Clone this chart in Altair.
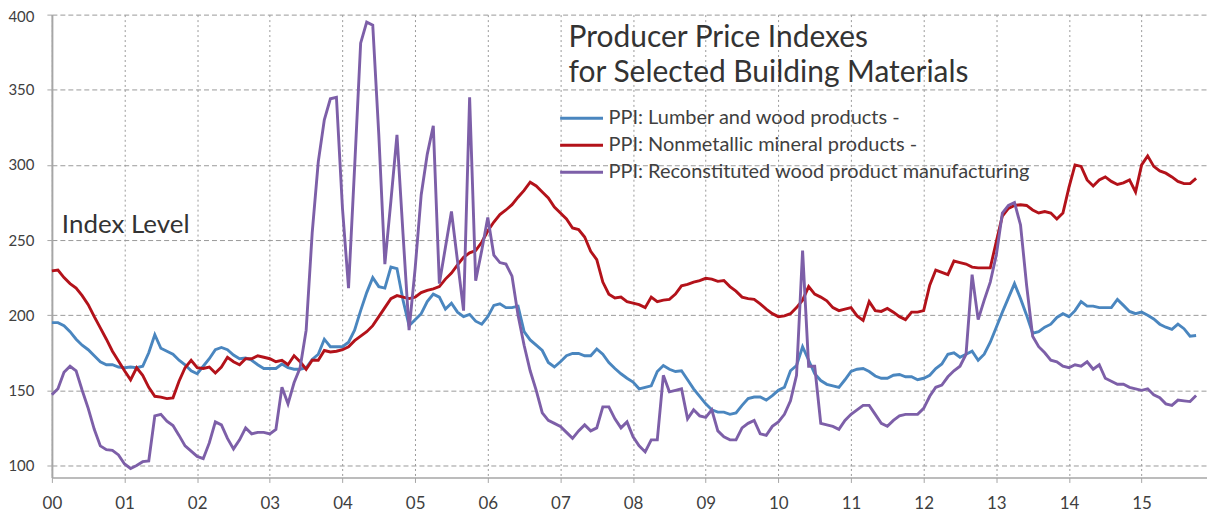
import altair as alt
import pandas as pd

# ---- data (monthly, Jan 2000 .. Oct 2015) ----
SERIES = [
    "PPI: Lumber and wood products -",
    "PPI: Nonmetallic mineral products -",
    "PPI: Reconstituted wood product manufacturing",
]
COLORS = ["#4a86bf", "#b3121a", "#7d5fa8"]

LUMBER = [
    195, 195, 193, 189, 184, 180, 177, 173, 169, 167, 167, 165.5,
    165, 165.5, 165, 166, 175, 187, 178, 176, 174, 170, 167, 163,
    161, 166, 171, 177, 178.5, 177, 173.5, 171, 171.5, 170, 167, 164.5,
    164.5, 164.5, 167.5, 165, 164, 164, 165, 170.5, 174, 184, 179, 179,
    179, 182, 190, 203, 215, 225, 219, 218, 232, 231, 210, 193,
    197, 201, 209, 214, 212, 204, 208, 202, 199, 200.5, 196, 194,
    199, 206.5, 207.5, 205, 205, 206, 189, 183.5, 180, 176.5, 168.5, 165.5,
    169, 173, 174.5, 174.5, 173, 173, 177.5, 174, 168.5, 164.5, 161, 158,
    155.5, 151, 152, 153, 162.5, 166.5, 164, 162.5, 163, 157, 151, 146,
    141, 137, 135.5, 135.5, 134, 135, 140, 144.5, 145.5, 145.5, 143.5, 146.5,
    150, 152, 163, 166.5, 179, 170, 161, 156.5, 154, 153, 152, 157,
    162.5, 164, 164.5, 162.5, 159.5, 158, 158, 160, 160.5, 159, 159, 157,
    158, 160, 164.5, 167.5, 174, 175, 172, 174, 176, 170, 174, 182,
    192, 202, 211.5, 221, 211, 200, 188, 189, 192, 194, 198.5, 201,
    199, 203, 209, 206, 206, 205, 205, 205, 210.5, 206.5, 202.5, 201,
    202, 200, 197.5, 194, 192, 190.5, 194, 191, 186, 186.5,
]

NONMETALLIC = [
    229.5, 230, 225, 221, 218, 213, 207, 199, 191.5, 184, 176, 169.5,
    163, 157, 165, 160, 152, 146, 145.5, 144.5, 145, 156, 165, 170,
    165, 164.5, 165.5, 161.5, 165.5, 172, 169, 167, 171, 171, 173, 172,
    171, 169, 170, 167, 173, 169, 164, 170, 170, 176.5, 175.5, 176,
    177, 179, 183, 186, 189, 193, 199, 205, 211, 213, 212, 211,
    212, 215, 216.5, 217.5, 219, 224, 228, 233.5, 238.5, 241.5, 243, 248.5,
    256, 262, 267, 270, 273.5, 278.5, 283, 288.5, 286, 282, 278, 272,
    268, 264, 258, 257, 252, 242.5, 237, 222, 214, 211.5, 212, 209,
    208, 207, 205, 212, 209, 210, 210.5, 214, 219.5, 220.5, 222, 223,
    224.5, 224, 222.5, 223, 219, 216, 212, 211, 210.5, 207.5, 204, 201,
    199, 199.5, 201, 205, 210, 219, 214, 212, 209.5, 205, 203, 204,
    205, 199.5, 196.5, 209, 203, 202.5, 204.5, 202, 199, 197, 202, 202,
    203, 220, 230, 228.5, 227, 236, 235, 234, 232, 231.5, 231.5, 231.5,
    249, 266, 271, 273, 273.5, 273, 270, 268, 269, 268, 264, 268,
    285, 300, 299, 290, 286, 290, 292, 289, 287, 288, 290, 282,
    300, 306, 299, 296, 294.5, 292, 289, 287.5, 287.5, 291,
]

RECONSTITUTED = [
    147, 151, 162, 166, 163, 150, 138, 124, 113, 110.5, 110, 107,
    101, 98, 100, 102.5, 103, 133, 134, 129.5, 126.5, 120, 113, 109.5,
    106, 104.5, 115, 129, 127, 118, 111, 117, 125, 121, 122, 122,
    121, 124, 152, 141, 155, 165, 190, 255, 302, 330, 344, 345,
    271, 218, 298, 381, 395, 393, 320, 234, 276, 320, 254, 190,
    231, 280, 307, 326, 221, 245, 269, 236, 203, 345, 223, 243,
    265, 240, 235, 234, 226, 200, 180, 163, 150, 135, 130, 128,
    126, 122, 118, 123, 127, 123, 125, 139, 139, 131, 125, 129,
    119, 113, 109, 117, 117, 160, 149, 150, 151, 131, 137, 133,
    132, 137, 123, 119, 117, 117, 125, 128, 130, 121, 120, 126,
    129, 134, 143, 160, 243, 166, 166, 128, 127, 126, 124, 130,
    134, 137, 140, 140, 134, 128, 126, 130, 133, 134, 134, 134,
    138, 146, 152, 153.5, 159, 163, 166, 174, 227, 197, 210, 222,
    240, 268, 273, 275, 260, 220, 186, 179, 175, 170, 169, 166,
    165, 167, 166, 169, 164, 167, 158, 156, 154, 154, 152, 151,
    150, 151, 147, 145, 141, 140, 143.5, 143, 142.5, 146.5,
]

YEAR_TICKS = list(range(0, 16))
Y_TICKS = [100, 150, 200, 250, 300, 350, 400]
TITLE_LINES = ["Producer Price Indexes", "for Selected Building Materials"]
Y_NOTE = "Index Level"

# ---- tidy table ----
rows = []
for name, vals in zip(SERIES, [LUMBER, NONMETALLIC, RECONSTITUTED]):
    for i, v in enumerate(vals):
        rows.append({"t": i / 12.0, "v": v, "series": name})
df = pd.DataFrame(rows)

FONT = "Lato"
TEXT_COLOR = "#333333"

lines = alt.Chart(df).mark_line(strokeWidth=2.9).encode(
    x=alt.X(
        "t:Q",
        scale=alt.Scale(domain=[0, 15.9], nice=False, zero=False),
        axis=alt.Axis(
            values=YEAR_TICKS,
            labelExpr="format(datum.value, '02d')",
            labelFlush=False,
            title=None,
        ),
    ),
    y=alt.Y(
        "v:Q",
        scale=alt.Scale(domain=[92, 400], nice=False, zero=False),
        axis=alt.Axis(values=Y_TICKS, title=None, labelFlush=True, labelFlushOffset=5),
    ),
    color=alt.Color(
        "series:N",
        scale=alt.Scale(domain=SERIES, range=COLORS),
        legend=alt.Legend(
            title=None,
            orient="none",
            legendX=508,
            legendY=94,
            direction="vertical",
            symbolType="stroke",
            symbolSize=1849,
            symbolStrokeWidth=3,
            clipHeight=20,
            rowPadding=7,
            padding=0,
            labelFont=FONT,
            labelFontSize=20,
            labelColor="#404040",
            labelLimit=700,
            labelOffset=4,
        ),
    ),
)


def note(text, x, y, size):
    return alt.Chart(pd.DataFrame({"label": [text]})).mark_text(
        align="left",
        baseline="alphabetic",
        font=FONT,
        fontSize=size,
        color=TEXT_COLOR,
    ).encode(text="label:N", x=alt.value(x), y=alt.value(y))


chart = alt.layer(
    lines,
    note(TITLE_LINES[0], 518, 32, 30),
    note(TITLE_LINES[1], 518, 68, 30),
    note(Y_NOTE, 10, 219, 26),
).properties(
    width=1158,
    height=464,
    autosize=alt.AutoSizeParams(type="none"),
    padding={"left": 44, "top": 6, "right": 0, "bottom": 34},
    background="white",
).configure_view(
    stroke="transparent"
).configure_axis(
    labelFont=FONT,
    labelColor="#404040",
    domainColor="#a6a6a6",
    tickColor="#a6a6a6",
    tickSize=5,
    gridColor="#9a9a9a",
    gridWidth=1,
).configure_axisX(
    labelFontSize=17,
    labelPadding=13,
    domainWidth=1.5,
    gridDash=[2, 3],
).configure_axisY(
    labelFontSize=15,
    labelPadding=13,
    domainWidth=2,
    gridDash=[5, 3],
)

chart.save("out.html", embed_options={"renderer": "svg", "actions": False})
